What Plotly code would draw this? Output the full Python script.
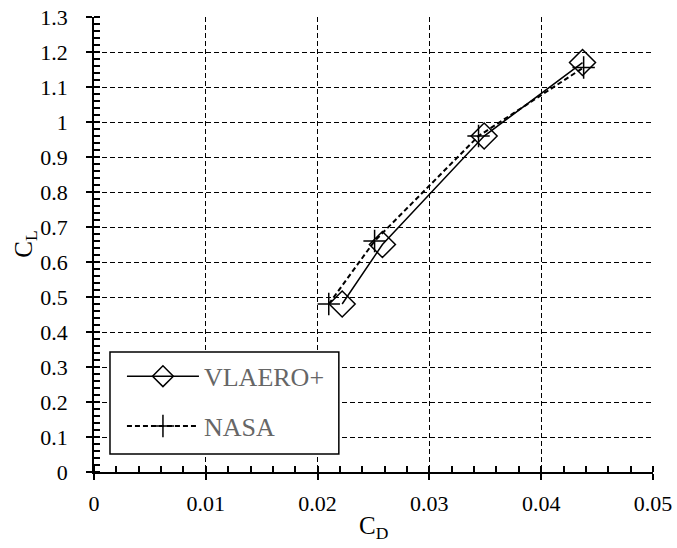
import plotly.graph_objects as go

# Data
vlaero_cd = [0.0222, 0.0258, 0.0349, 0.0437]
vlaero_cl = [0.48, 0.65, 0.96, 1.17]
nasa_cd = [0.0210, 0.0251, 0.0344, 0.0438]
nasa_cl = [0.48, 0.66, 0.96, 1.156]

x_ticks = [0, 0.01, 0.02, 0.03, 0.04, 0.05]
x_labels = ["0", "0.01", "0.02", "0.03", "0.04", "0.05"]
y_ticks = [0, 0.1, 0.2, 0.3, 0.4, 0.5, 0.6, 0.7, 0.8, 0.9, 1.0, 1.1, 1.2, 1.3]
y_labels = ["0", "0.1", "0.2", "0.3", "0.4", "0.5", "0.6", "0.7", "0.8", "0.9", "1", "1.1", "1.2", "1.3"]

FONT = "Liberation Serif, Times New Roman, serif"

fig = go.Figure()
fig.add_trace(go.Scatter(
    x=vlaero_cd, y=vlaero_cl, name="VLAERO+", mode="lines+markers", legendgroup="a",
    line=dict(color="black", width=1.5),
    marker=dict(symbol="diamond-open", size=20, color="black", line=dict(width=1.5)),
))
fig.add_trace(go.Scatter(
    x=nasa_cd, y=nasa_cl, name="NASA", mode="lines+markers", legendgroup="b",
    line=dict(color="black", width=2, dash="5px,3px"),
    marker=dict(symbol="cross-thin-open", size=16, color="black", line=dict(width=1.5, color="black")),
))

axis_common = dict(
    showline=True, linecolor="black", linewidth=1.5,
    showgrid=True, gridcolor="black", gridwidth=1.4, griddash="5px,3px",
    ticks="outside", ticklen=6, tickwidth=1.5, tickcolor="black",
    tickfont=dict(family=FONT, size=22, color="black"),
    zeroline=False, mirror=False, ticklabeloverflow="allow", automargin=False,
)

fig.update_xaxes(
    range=[0, 0.050005], tickmode="array", tickvals=x_ticks, ticktext=x_labels, **axis_common,
    ticklabelstandoff=5,
    minor=dict(tickmode="linear", tick0=0, dtick=0.002, ticks="inside", ticklen=6,
               tickcolor="black", tickwidth=1.5, showgrid=False),
)
fig.update_yaxes(
    range=[0, 1.30013], tickmode="array", tickvals=y_ticks, ticktext=y_labels, **axis_common,
    ticklabelstandoff=14,
    minor=dict(tickmode="linear", tick0=0, dtick=0.02, ticks="inside", ticklen=6,
               tickcolor="black", tickwidth=1.5, showgrid=False),
)

# axis titles
fig.add_annotation(text="C<sub>D</sub>", xref="paper", yref="paper", x=0.5, y=-0.121,
                   xanchor="center", yanchor="middle",
                   showarrow=False, font=dict(family=FONT, size=25, color="black"))
fig.add_annotation(text="C<sub>L</sub>", xref="paper", yref="paper", x=-0.123, y=0.5,
                   xanchor="center", yanchor="middle",
                   textangle=-90, showarrow=False, font=dict(family=FONT, size=25, color="black"))

# legend frame
fig.add_shape(type="rect", xref="paper", yref="paper",
              x0=0.0286, x1=0.438, y0=0.0396, y1=0.2637,
              line=dict(color="black", width=1.5), fillcolor="white", layer="above")

fig.update_layout(
    width=677, height=548,
    margin=dict(l=94, r=24, t=17, b=76, autoexpand=False),
    paper_bgcolor="white", plot_bgcolor="white",
    font=dict(family=FONT, color="black"),
    showlegend=True,
    legend=dict(
        x=0.05, y=0.262, xanchor="left", yanchor="top",
        bgcolor="rgba(0,0,0,0)", borderwidth=0,
        font=dict(family=FONT, size=26, color="#666666"),
        itemwidth=72, tracegroupgap=13,
    ),
)

fig.write_html("out.html", config={"displayModeBar": False},
               post_script="document.body.style.margin='0';document.body.style.padding='0';")
